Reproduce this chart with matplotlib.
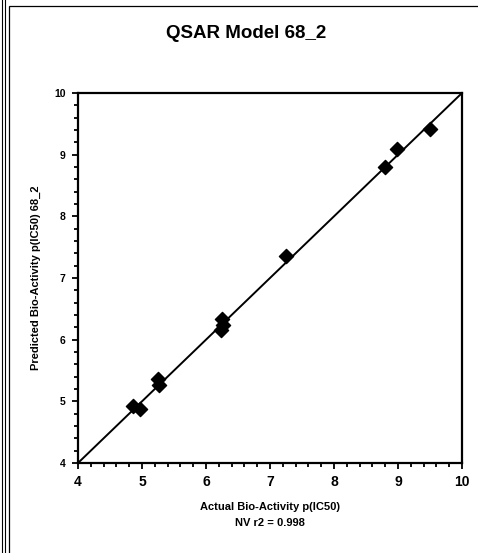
import matplotlib
matplotlib.use('Agg')
import matplotlib.pyplot as plt
from matplotlib.lines import Line2D
from matplotlib.patches import Rectangle
from matplotlib.ticker import MultipleLocator

plt.rcParams['font.family'] = ['Liberation Sans', 'DejaVu Sans']

# values
actual = [4.86, 4.97, 5.25, 5.26, 6.25, 6.27, 6.24, 7.25, 8.80, 8.98, 9.50]
predicted = [4.93, 4.88, 5.36, 5.27, 6.33, 6.24, 6.16, 7.35, 8.80, 9.10, 9.42]
axis_lim = [4, 10]
title = 'QSAR Model 68_2'
xlabel = 'Actual Bio-Activity p(IC50)'
ylabel = 'Predicted Bio-Activity p(IC50) 68_2'
r2_text = 'NV r2 = 0.998'

W, H = 478, 553
fig = plt.figure(figsize=(W / 100, H / 100), dpi=100)
ax = fig.add_axes([78 / W, 1 - 463 / H, 384 / W, 370 / H])

ax.plot(axis_lim, axis_lim, color='black', lw=1.4, zorder=2)
ax.scatter(actual, predicted, marker='D', s=52, color='black', zorder=3)

ax.set_xlim(axis_lim)
ax.set_ylim(axis_lim)
ax.xaxis.set_major_locator(MultipleLocator(1))
ax.yaxis.set_major_locator(MultipleLocator(1))
ax.xaxis.set_minor_locator(MultipleLocator(0.2))
ax.yaxis.set_minor_locator(MultipleLocator(0.2))
ax.tick_params(which='both', direction='out', width=1.3, color='black')
ax.tick_params(which='major', length=4)
ax.tick_params(which='minor', length=3)
ax.tick_params(axis='x', labelsize=10, pad=5)
ax.tick_params(axis='y', labelsize=7.5, pad=5)
for lab in ax.get_xticklabels() + ax.get_yticklabels():
    lab.set_fontweight('bold')
for sp in ax.spines.values():
    sp.set_linewidth(1.6)

fig.text(246 / W, 1 - 33 / H, title, ha='center', va='center', fontsize=13.5, fontweight='bold')
fig.text(270 / W, 1 - 507 / H, xlabel, ha='center', va='center', fontsize=8, fontweight='bold')
fig.text(270 / W, 1 - 523 / H, r2_text, ha='center', va='center', fontsize=8, fontweight='bold')
fig.text(36 / W, 1 - 278 / H, ylabel, ha='center', va='center', rotation=90, fontsize=8, fontweight='bold')

# scanned page frame
for xp in (1.5, 5.0):
    fig.add_artist(Line2D([xp / W, xp / W], [0, 1], color='black', lw=0.8, transform=fig.transFigure))
fig.add_artist(Rectangle((9 / W, -0.1), 1.2, 1 - 6 / H + 0.1, fill=False, ec='black', lw=0.9,
                         transform=fig.transFigure))

plt.savefig('out.png', dpi=100)
plt.close()
